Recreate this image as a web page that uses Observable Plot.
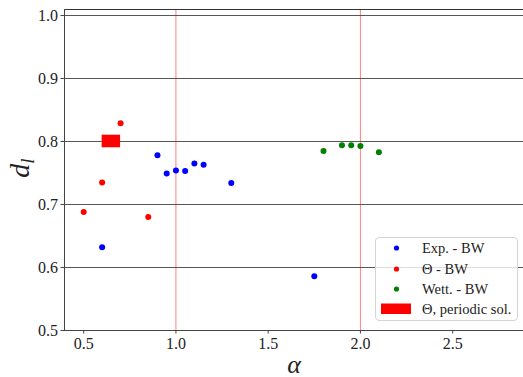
<!DOCTYPE html>
<html><head><meta charset="utf-8">
<script src="https://cdn.jsdelivr.net/npm/d3@7"></script>
<script src="https://cdn.jsdelivr.net/npm/@observablehq/plot@0.6"></script>
<style>
body{margin:0;background:#fff;}
#wrap{position:relative;width:523px;height:377px;font-family:"Liberation Serif","Times New Roman",Times,"DejaVu Serif","Noto Serif",serif;}
#legend{position:absolute;left:375px;top:237px;width:143px;height:84px;background:rgba(255,255,255,0.8);border:1px solid #d4d4d4;border-radius:4px;box-sizing:border-box;}
.row{position:absolute;left:0;height:20px;font-size:14.5px;color:#222;white-space:nowrap;}
.row span{position:absolute;left:46px;top:0;line-height:20px;}
.row svg{position:absolute;left:0;top:0;}
</style>
</head><body><div id="wrap"></div>
<script>
// data
const expX = [0.6, 0.9, 0.95, 1.0, 1.05, 1.1, 1.15, 1.3, 1.75];
const expY = [0.632, 0.778, 0.749, 0.754, 0.753, 0.765, 0.763, 0.734, 0.586];
const thX = [0.5, 0.6, 0.7, 0.85];
const thY = [0.688, 0.735, 0.829, 0.680];
const wetX = [1.8, 1.9, 1.95, 2.0, 2.1];
const wetY = [0.785, 0.794, 0.794, 0.793, 0.783];
const periodicX = [0.6, 0.7];
const periodicY = [0.79, 0.81];
const xTicks = [0.5, 1.0, 1.5, 2.0, 2.5];
const yTicks = [0.5, 0.6, 0.7, 0.8, 0.9, 1.0];
const yGrid = [0.6, 0.7, 0.8, 0.9, 1.0];
const xRef = [1.0, 2.0];
const seriesNames = ["Exp. - BW", "\u0398 - BW", "Wett. - BW", "\u0398, periodic sol."];
const colors = ["#0000ff", "#ff0000", "#008000", "#ff0000"];

const FONT = '"Liberation Serif", "Times New Roman", Times, "DejaVu Serif", "Noto Serif", serif';
const toPts = (xs, ys) => xs.map((x, i) => ({x, y: ys[i]}));
const exp = toPts(expX, expY), th = toPts(thX, thY), wet = toPts(wetX, wetY);
const periodic = [{x1: periodicX[0], x2: periodicX[1], y1: periodicY[0], y2: periodicY[1]}];

const svg = Plot.plot({
  width: 523, height: 377,
  marginLeft: 64, marginRight: 0, marginTop: 9, marginBottom: 47,
  style: {fontFamily: FONT, fontSize: "16px", color: "#222", background: "#fff"},
  x: {domain: [0.396, 2.884]},
  y: {domain: [0.5, 1.0095]},
  marks: [
    Plot.ruleY(yGrid, {stroke: "#555", strokeWidth: 1}),
    Plot.ruleX(xRef, {stroke: "#ff0000", strokeOpacity: 0.5, strokeWidth: 1}),
    Plot.rect(periodic, {x1: "x1", x2: "x2", y1: "y1", y2: "y2", fill: colors[3]}),
    Plot.dot(exp, {x: "x", y: "y", r: 3, fill: colors[0]}),
    Plot.dot(th, {x: "x", y: "y", r: 3, fill: colors[1]}),
    Plot.dot(wet, {x: "x", y: "y", r: 3, fill: colors[2]}),
    Plot.frame({anchor: "top", stroke: "#333", strokeWidth: 1}),
    Plot.frame({anchor: "left", stroke: "#444", strokeWidth: 1}),
    Plot.frame({anchor: "bottom", stroke: "#444", strokeWidth: 1}),
    Plot.axisX({ticks: xTicks, tickFormat: d3.format(".1f"), tickSize: 3.5, tickPadding: 4, label: null, stroke: "#444", fontFamily: FONT}),
    Plot.axisY({ticks: yTicks, tickFormat: d3.format(".1f"), tickSize: 3.5, tickPadding: 3, label: null, stroke: "#444", fontFamily: FONT}),
    Plot.text(["\u03b1"], {frameAnchor: "bottom", dy: 42, fontSize: 26, fontStyle: "italic", fontFamily: FONT, fill: "#222"})
  ]
});
document.getElementById("wrap").appendChild(svg);

// y label d_l
const s = d3.select(svg);
const t = s.append("text")
  .attr("transform", "translate(29,168) rotate(-90)")
  .attr("text-anchor", "middle")
  .style("font-family", FONT)
  .attr("font-style", "italic")
  .attr("font-size", 28)
  .attr("fill", "#222");
t.append("tspan").text("d");
t.append("tspan").attr("font-size", 19).attr("dy", 5).text("l");

// legend
const leg = document.createElement("div");
leg.id = "legend";
const rowTops = [0, 20.5, 41, 61];
seriesNames.forEach((name, i) => {
  const row = document.createElement("div");
  row.className = "row";
  row.style.top = (rowTops[i]) + "px";
  row.style.width = "140px";
  let sw;
  if (i < 3) sw = `<svg width="40" height="20"><circle cx="20.5" cy="10" r="2.6" fill="${colors[i]}"/></svg>`;
  else sw = `<svg width="40" height="20"><rect x="5" y="4.5" width="30" height="10.5" fill="${colors[i]}"/></svg>`;
  row.innerHTML = sw + `<span>${name}</span>`;
  leg.appendChild(row);
});
document.getElementById("wrap").appendChild(leg);
</script>
</body></html>
